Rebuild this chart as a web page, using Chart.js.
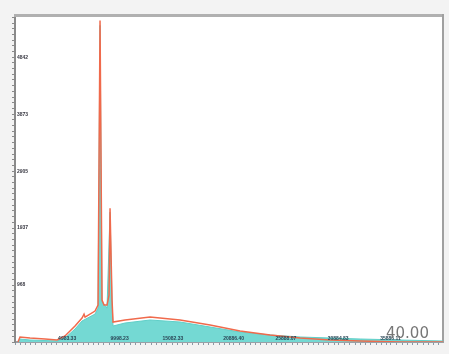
<!DOCTYPE html>
<html>
<head>
<meta charset="utf-8">
<script src="https://cdn.jsdelivr.net/npm/chart.js@4"></script>
<style>
  html, body { margin: 0; padding: 0; background: #f3f3f3; }
  #wrap { position: relative; width: 449px; height: 354px; }
  #corner { position: absolute; left: 386px; top: 324px; font: 15px "DejaVu Sans", sans-serif; color: #777; }
</style>
</head>
<body>
<div id="wrap">
  <canvas id="chart" width="449" height="354"></canvas>
  <div id="corner">40.00</div>
</div>
<script>
// Outline trace (orange)
const lineX = [287, 478, 1434, 2868, 4015, 4780, 5736, 6405, 6596, 6692, 7648, 7935, 8126, 8317, 8508, 8795, 8986, 9082, 9273, 9369, 10516, 12906, 15774, 18642, 21510, 24378, 27246, 30114, 32982, 36806, 40917];
const lineY = [0, 85, 68, 51, 34, 102, 272, 408, 475, 424, 526, 628, 5468, 713, 628, 628, 798, 2275, 713, 340, 374, 425, 374, 289, 187, 119, 68, 34, 17, 0, 0];

// Filled trace (teal)
const fillX = [287, 478, 1434, 4015, 4780, 5736, 6405, 7648, 7935, 8126, 8317, 8795, 9082, 9273, 9369, 10516, 12906, 15774, 18642, 21510, 24378, 27246, 30114, 32982, 36806, 40917];
const fillY = [0, 51, 34, 17, 68, 221, 357, 475, 577, 5383, 680, 577, 2207, 680, 272, 323, 374, 340, 255, 170, 119, 85, 68, 51, 34, 17];

// Tick labels
const xTickValues = [4983.33, 9998.23, 15082.33, 20886.40, 25888.07, 30884.83, 35886.11];
const xTickLabels = ['4983.33', '9998.23', '15082.33', '20886.40', '25888.07', '30884.83', '35886.11'];
const yTickValues = [968, 1937, 2905, 3873, 4842];
const yTickLabels = ['968', '1937', '2905', '3873', '4842'];

const toPoints = (xs, ys) => xs.map((x, i) => ({ x: x, y: ys[i] }));

// minor ticks plus the labelled ones, without near-duplicates
function tickList(max, step, labelled) {
  const t = [];
  for (let v = 0; v <= max; v += step) {
    if (!labelled.some(l => Math.abs(l - v) < step / 2)) t.push({ value: v });
  }
  labelled.forEach(v => t.push({ value: v }));
  return t.sort((a, b) => a.value - b.value);
}

const plotBg = {
  id: 'plotBg',
  beforeDraw(chart) {
    const a = chart.chartArea, ctx = chart.ctx;
    ctx.save();
    ctx.fillStyle = '#ffffff';
    ctx.fillRect(a.left, a.top, a.right - a.left, a.bottom - a.top);
    ctx.restore();
  }
};

new Chart(document.getElementById('chart'), {
  type: 'line',
  data: {
    datasets: [
      {
        data: toPoints(lineX, lineY),
        borderColor: '#f06a4c',
        borderWidth: 1.5,
        pointRadius: 0,
        fill: false,
        tension: 0
      },
      {
        data: toPoints(fillX, fillY),
        borderColor: '#5fcfc8',
        backgroundColor: '#74d9d3',
        borderWidth: 1,
        pointRadius: 0,
        fill: 'origin',
        tension: 0
      }
    ]
  },
  options: {
    responsive: false,
    animation: false,
    layout: { padding: { left: 0, top: 15, right: 6, bottom: 0 } },
    plugins: { legend: { display: false }, tooltip: { enabled: false } },
    scales: {
      x: {
        type: 'linear',
        min: 0,
        max: 40900,
        afterFit: s => { s.height = 12; },
        afterBuildTicks: s => { s.ticks = tickList(40900, 500, xTickValues); },
        ticks: {
          z: 1,           // labels sit on top of the teal fill
          autoSkip: false,
          maxRotation: 0,
          mirror: true,   // keeps the labels from being clipped to the axis box
          padding: 0,
          font: { size: 5, weight: 'bold' },
          color: '#2a4656',
          callback: v => {
            const i = xTickValues.indexOf(v);
            return i >= 0 ? xTickLabels[i] : '';
          }
        },
        grid: { drawOnChartArea: false, tickLength: 3, color: '#8a9aa6' },
        border: { color: '#9aa0a6', width: 2 }
      },
      y: {
        min: 0,
        max: 5560,
        afterFit: s => { s.width = 15; },
        afterBuildTicks: s => { s.ticks = tickList(5560, 96.85, yTickValues); },
        ticks: {
          autoSkip: false,
          mirror: true,
          padding: 2,
          font: { size: 5, weight: 'bold' },
          color: '#3a3a44',
          callback: v => {
            const i = yTickValues.indexOf(v);
            return i >= 0 ? yTickLabels[i] : '';
          }
        },
        grid: { drawOnChartArea: false, tickLength: 3, color: '#8a8a8a' },
        border: { color: '#8a8a8a', width: 2 }
      },
      xTop: {
        type: 'linear',
        position: 'top',
        min: 0,
        max: 40900,
        afterFit: s => { s.height = 0; },
        ticks: { display: false },
        grid: { display: false },
        border: { color: '#b0b0b0', width: 3 }
      },
      yRight: {
        position: 'right',
        min: 0,
        max: 5560,
        afterFit: s => { s.width = 0; },
        ticks: { display: false },
        grid: { display: false },
        border: { color: '#a0a0a0', width: 2 }
      }
    }
  },
  plugins: [plotBg]
});
</script>
</body>
</html>
